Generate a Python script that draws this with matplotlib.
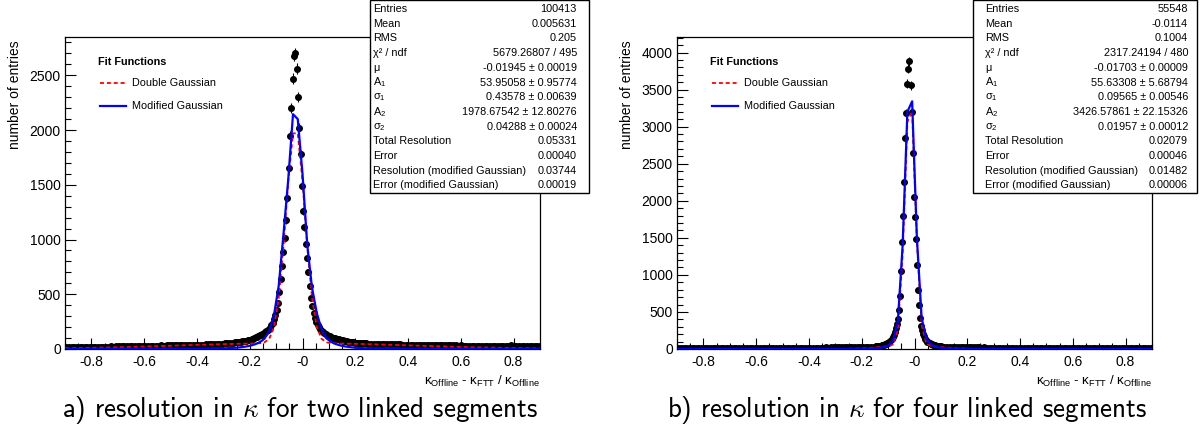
import numpy as np
import matplotlib
matplotlib.use("Agg")
import matplotlib.pyplot as plt
from matplotlib.ticker import MultipleLocator
from matplotlib.lines import Line2D
from matplotlib.patches import Rectangle

plt.rcParams['font.family'] = ['Liberation Sans', 'DejaVu Sans']
plt.rcParams['mathtext.fontset'] = 'custom'
plt.rcParams['mathtext.rm'] = 'Liberation Sans'
plt.rcParams['mathtext.it'] = 'Liberation Sans:italic'
plt.rcParams['mathtext.bf'] = 'Liberation Sans:bold'

# ---------------- data: panel a (two linked segments) ----------------
# histogram contents (bin centres: tails every 0.01, core every 0.005)
a_tail_left = [16, 15, 17, 16, 18, 17, 18, 19, 18, 20,
               19, 20, 21, 20, 22, 21, 22, 23, 22, 24,
               23, 25, 24, 26, 25, 26, 27, 26, 28, 27,
               29, 28, 30, 29, 31, 30, 32, 31, 33, 32,
               34, 33, 35, 34, 36, 35, 37, 38, 37, 39,
               40, 39, 41, 42, 43, 44, 46, 47, 48, 50,
               51, 53, 55, 57, 60]
a_core = [62, 64, 66, 68, 70, 72, 74, 77, 80, 83,
          86, 90, 95, 100, 106, 112, 118, 124, 131, 138,
          145, 152, 160, 170, 182, 196, 215, 240, 270, 310,
          360, 420, 520, 640, 760, 890, 1010, 1180, 1380, 1650,
          1950, 2200, 2470, 2680, 2700, 2560, 2300, 2020, 1780, 1490,
          1260, 1110, 960, 830, 700, 580, 470, 390, 330, 285,
          250, 222, 200, 182, 167, 155, 145, 136, 128, 121,
          115, 110, 105, 101, 97, 93, 90, 87, 84, 81,
          78, 75, 72, 70, 68, 66, 64, 62, 60, 59,
          58, 57, 56, 55, 54, 53, 52, 52, 51, 50]
a_tail_right = [50, 49, 48, 47, 46, 46, 45, 44, 44, 43,
                42, 42, 41, 41, 40, 40, 39, 39, 38, 38,
                37, 37, 36, 36, 35, 35, 34, 35, 33, 34,
                33, 32, 33, 31, 32, 31, 30, 31, 30, 29,
                30, 29, 28, 29, 28, 27, 28, 27, 26, 27,
                26, 27, 26, 38, 26, 25, 26, 25, 24, 25,
                24, 25, 24, 23, 26]
a_red_x = [-0.9, -0.827, -0.777, -0.727, -0.677, -0.627, -0.577, -0.527, -0.477, -0.427,
           -0.377, -0.327, -0.277, -0.227, -0.198, -0.18, -0.162, -0.144, -0.126, -0.108,
           -0.09, -0.072, -0.054, -0.036, -0.018, 0.0, 0.018, 0.036, 0.054, 0.072,
           0.09, 0.108, 0.126, 0.144, 0.173, 0.223, 0.273, 0.323, 0.373, 0.423,
           0.473, 0.523, 0.573, 0.623, 0.673, 0.723, 0.773, 0.823, 0.9]
a_red_y = [7.3, 10.0, 12.3, 14.8, 17.7, 20.9, 24.3, 27.9, 31.7, 35.4,
           39.1, 42.6, 45.8, 48.6, 50.0, 50.9, 52.9, 60.8, 93.7, 201,
           466, 942, 1537, 1970, 1970, 1537, 942, 466, 201, 93.7,
           60.8, 52.9, 50.9, 50.0, 48.6, 45.8, 42.6, 39.1, 35.4, 31.7,
           27.9, 24.3, 20.9, 17.7, 14.8, 12.3, 10.0, 8.0, 5.6]
a_blue_x = [-0.9, -0.63, -0.45, -0.342, -0.288, -0.252, -0.234, -0.216, -0.198, -0.18,
            -0.162, -0.144, -0.126, -0.108, -0.09, -0.072, -0.054, -0.036, -0.018, 0.0,
            0.018, 0.036, 0.054, 0.072, 0.09, 0.108, 0.126, 0.144, 0.162, 0.18,
            0.198, 0.234, 0.288, 0.396, 0.576, 0.9]
a_blue_y = [0.6, 1.3, 2.5, 4.5, 7, 12, 16, 22, 30, 43,
            62, 95, 165, 310, 580, 1050, 1550, 2145, 2100, 1600,
            950, 560, 330, 180, 100, 65, 45, 32, 23, 17,
            12, 7, 4.5, 2.5, 1.3, 0.5]
a_stats = [("Entries", "100413"), ("Mean", "0.005631"), ("RMS", "0.205"),
           ("χ² / ndf", "5679.26807 / 495"), ("μ", "-0.01945 ± 0.00019"),
           ("A$_1$", "53.95058 ± 0.95774"), ("σ$_1$", "0.43578 ± 0.00639"),
           ("A$_2$", "1978.67542 ± 12.80276"), ("σ$_2$", "0.04288 ± 0.00024"),
           ("Total Resolution", "0.05331"), ("Error", "0.00040"),
           ("Resolution (modified Gaussian)", "0.03744"),
           ("Error (modified Gaussian)", "0.00019")]
a_caption = r"a) resolution in $\kappa$ for two linked segments"
a_yticks = [0, 500, 1000, 1500, 2000, 2500]

# ---------------- data: panel b (four linked segments) ----------------
b_tail_left = [9, 8, 10, 9, 9, 10, 8, 10, 9, 11,
               10, 9, 11, 10, 10, 11, 12, 10, 11, 12,
               11, 12, 11, 13, 12, 12, 13, 12, 14, 13,
               13, 14, 13, 15, 14, 14, 15, 14, 16, 15,
               16, 15, 17, 16, 16, 17, 18, 17, 18, 17,
               19, 18, 19, 20, 19, 20, 21, 20, 21, 22,
               22, 23, 22, 24, 23, 25, 24, 26, 25, 27,
               28, 27, 29, 30, 32]
b_core = [34, 36, 38, 40, 43, 46, 49, 53, 57, 62,
          68, 76, 86, 97, 112, 132, 160, 195, 235, 290,
          340, 410, 520, 720, 1050, 1450, 1800, 2250, 2850, 3180,
          3580, 3780, 3880, 3560, 3200, 2650, 2050, 1780, 1480, 1140,
          800, 590, 420, 314, 250, 205, 170, 140, 118, 100,
          88, 78, 70, 63, 58, 53, 49, 46, 43, 40,
          38, 36, 34, 33, 31, 30]
b_tail_right = [28, 27, 26, 26, 25, 24, 24, 23, 23, 22,
                22, 21, 21, 20, 21, 20, 19, 20, 19, 19,
                18, 19, 18, 18, 17, 18, 17, 17, 16, 17,
                16, 16, 15, 16, 15, 15, 16, 14, 15, 14,
                15, 14, 14, 13, 14, 13, 14, 13, 12, 13,
                13, 12, 13, 12, 12, 11, 12, 12, 11, 12,
                11, 12, 11, 11, 10, 11, 11, 10, 11, 10,
                10, 11, 10, 9, 10, 10, 9, 10]
b_red_x = [-0.9, -0.5, -0.351, -0.315, -0.297, -0.279, -0.261, -0.243, -0.225, -0.207,
           -0.189, -0.171, -0.153, -0.135, -0.117, -0.099, -0.081, -0.063, -0.045, -0.027,
           -0.009, 0.009, 0.027, 0.045, 0.063, 0.081, 0.099, 0.117, 0.135, 0.153,
           0.171, 0.189, 0.207, 0.225, 0.243, 0.261, 0.297, 0.351, 0.5, 0.9]
b_red_y = [0, 0, 0.12, 0.43, 0.8, 1.3, 2.1, 3.4, 5.2, 7.7,
           11.0, 15.2, 20.2, 26.0, 32.2, 39.0, 60.8, 266, 1284, 3065,
           3207, 1472, 324, 67.8, 40.0, 32.9, 26.7, 20.9, 15.7, 11.5,
           8.1, 5.5, 3.6, 2.3, 1.4, 0.8, 0.25, 0.05, 0, 0]
b_blue_x = [-0.9, -0.5, -0.351, -0.297, -0.243, -0.189, -0.153, -0.135, -0.117, -0.099,
            -0.081, -0.063, -0.045, -0.027, -0.009, 0.009, 0.027, 0.045, 0.063, 0.081,
            0.099, 0.117, 0.153, 0.207, 0.297, 0.5, 0.9]
b_blue_y = [0.2, 0.5, 1.0, 1.5, 2.3, 4.5, 9, 15, 26, 50,
            120, 380, 1400, 3200, 3342, 1500, 420, 130, 55, 28,
            16, 10, 5, 2.5, 1.2, 0.5, 0.2]
b_stats = [("Entries", "55548"), ("Mean", "-0.0114"), ("RMS", "0.1004"),
           ("χ² / ndf", "2317.24194 / 480"), ("μ", "-0.01703 ± 0.00009"),
           ("A$_1$", "55.63308 ± 5.68794"), ("σ$_1$", "0.09565 ± 0.00546"),
           ("A$_2$", "3426.57861 ± 22.15326"), ("σ$_2$", "0.01957 ± 0.00012"),
           ("Total Resolution", "0.02079"), ("Error", "0.00046"),
           ("Resolution (modified Gaussian)", "0.01482"),
           ("Error (modified Gaussian)", "0.00006")]
b_caption = r"b) resolution in $\kappa$ for four linked segments"
b_yticks = [0, 500, 1000, 1500, 2000, 2500, 3000, 3500, 4000]

xtick_values = [-0.8, -0.6, -0.4, -0.2, 0.0, 0.2, 0.4, 0.6, 0.8]
xtick_labels = ["-0.8", "-0.6", "-0.4", "-0.2", "-0", "0.2", "0.4", "0.6", "0.8"]
legend_title = "Fit Functions"
legend_labels = ["Double Gaussian", "Modified Gaussian"]
ylabel = "number of entries"
xlabel = r"κ$_{\mathregular{Offline}}$ - κ$_{\mathregular{FTT}}$ / κ$_{\mathregular{Offline}}$"

# ---------------- layout helpers ----------------
W, H = 1200, 432
fig = plt.figure(figsize=(12, 4.32), dpi=100)


def fx(px):
    return px / W


def fy(py):
    return 1 - py / H


def panel(x0, x1, tails, core_x0, core_step, tail_step,
          red_x, red_y, blue_x, blue_y, ylim, yticks,
          stats, box, lab_x, val_x, leg_x, ylab_x, caption, cap_x):
    ax = fig.add_axes([fx(x0), fy(349), fx(x1) - fx(x0), fy(37) - fy(349)])
    tl, core, tr = tails
    xs = np.concatenate([
        -0.895 + tail_step * np.arange(len(tl)),
        core_x0 + core_step * np.arange(len(core)),
        (core_x0 + core_step * len(core) + 0.008) + tail_step * np.arange(len(tr)),
    ])
    ys = np.array(tl + core + tr, dtype=float)
    ax.errorbar(xs, ys, yerr=np.sqrt(ys), fmt='o', color='black', ms=4.0,
                elinewidth=0.8, capsize=0, zorder=2)
    ax.plot(red_x, red_y, color='#ff0000', lw=1.3, ls=(0, (2.2, 1.6)), zorder=3)
    ax.plot(blue_x, blue_y, color='#0000ff', lw=1.6, zorder=4)
    ax.set_xlim(-0.9, 0.9)
    ax.set_ylim(*ylim)
    ax.set_xticks(xtick_values)
    ax.set_xticklabels(xtick_labels)
    ax.set_yticks(yticks)
    ax.xaxis.set_minor_locator(MultipleLocator(0.05))
    ax.yaxis.set_minor_locator(MultipleLocator(100))
    ax.tick_params(which='both', direction='in', top=False, right=False,
                   width=0.8, colors='black', labelsize=10)
    ax.tick_params(which='major', length=8)
    ax.tick_params(which='minor', length=4)
    ax.tick_params(axis='x', pad=4)
    ax.tick_params(axis='y', pad=3)
    for s in ax.spines.values():
        s.set_linewidth(0.9)
    # axis titles
    fig.text(fx(ylab_x), fy(40), ylabel, rotation=90, ha='center', va='top', fontsize=10)
    fig.text(fx(x1), fy(381), xlabel, ha='right', va='center', fontsize=9.5)
    # legend
    fig.text(fx(leg_x), fy(62), legend_title, fontweight='bold', fontsize=7.8,
             ha='left', va='center')
    fig.add_artist(Line2D([fx(leg_x + 2), fx(leg_x + 28)], [fy(83), fy(83)],
                          color='#ff0000', lw=1.3, ls=(0, (2.2, 1.6))))
    fig.add_artist(Line2D([fx(leg_x + 2), fx(leg_x + 28)], [fy(106), fy(106)],
                          color='#0000ff', lw=1.6))
    fig.text(fx(leg_x + 34), fy(83), legend_labels[0], fontsize=7.8, ha='left', va='center')
    fig.text(fx(leg_x + 34), fy(106), legend_labels[1], fontsize=7.8, ha='left', va='center')
    # stats box
    bx0, bx1, by0, by1 = box
    fig.add_artist(Rectangle((fx(bx0), fy(by1)), fx(bx1) - fx(bx0), fy(by0) - fy(by1),
                             facecolor='white', edgecolor='black', lw=1.0, zorder=5))
    for i, (k, v) in enumerate(stats):
        yy = 9 + 14.7 * i
        fig.text(fx(lab_x), fy(yy), k, fontsize=7.8, ha='left', va='center', zorder=6)
        fig.text(fx(val_x), fy(yy), v, fontsize=7.8, ha='right', va='center', zorder=6)
    # caption
    fig.text(fx(cap_x), fy(410), caption, fontfamily='cmss10', math_fontfamily='cm',
             fontsize=19.5, ha='center', va='center')
    return ax


panel(65, 540, (a_tail_left, a_core, a_tail_right), -0.2475, 0.005, 0.01,
      a_red_x, a_red_y, a_blue_x, a_blue_y, (0, 2850), a_yticks,
      a_stats, (370, 589, 0, 193), 373, 577, 98, 15, a_caption, 300)

panel(677, 1152, (b_tail_left, b_core, b_tail_right), -0.147, 0.004, 0.01,
      b_red_x, b_red_y, b_blue_x, b_blue_y, (0, 4210), b_yticks,
      b_stats, (973, 1197, 0, 193), 985, 1188, 710, 627, b_caption, 907)

fig.savefig("out.png", dpi=100)
